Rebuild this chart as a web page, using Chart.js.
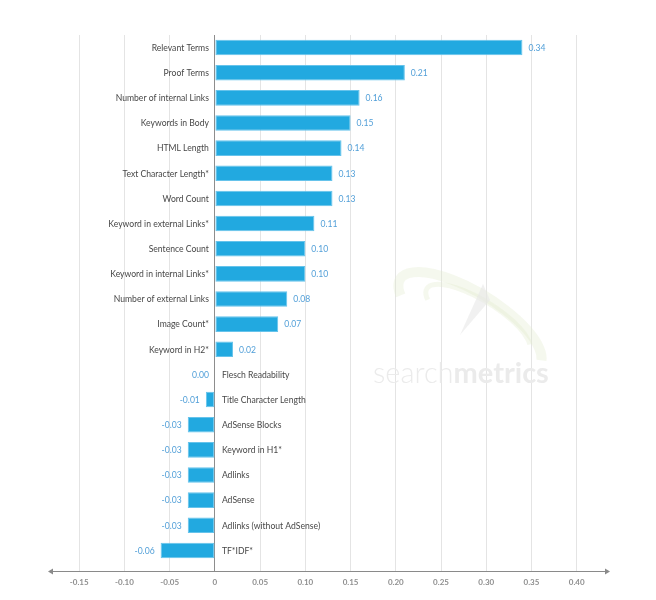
<!DOCTYPE html>
<html>
<head>
<meta charset="utf-8">
<script src="https://cdn.jsdelivr.net/npm/chart.js@4/dist/chart.umd.min.js"></script>
<style>
  html, body { margin: 0; padding: 0; background: #fff; }
  #wrap { width: 656px; height: 600px; }
</style>
</head>
<body>
<div id="wrap"><canvas id="chart" width="656" height="600"></canvas></div>
<script>
// data
const categories = [
  'Relevant Terms', 'Proof Terms', 'Number of internal Links', 'Keywords in Body',
  'HTML Length', 'Text Character Length*', 'Word Count', 'Keyword in external Links*',
  'Sentence Count', 'Keyword in internal Links*', 'Number of external Links',
  'Image Count*', 'Keyword in H2*', 'Flesch Readability', 'Title Character Length',
  'AdSense Blocks', 'Keyword in H1*', 'Adlinks', 'AdSense',
  'Adlinks (without AdSense)', 'TF*IDF*'
];
const correlation = [
  0.34, 0.21, 0.16, 0.15, 0.14, 0.13, 0.13, 0.11, 0.10, 0.10, 0.08,
  0.07, 0.02, 0.00, -0.01, -0.03, -0.03, -0.03, -0.03, -0.03, -0.06
];
const tickValues = [-0.15, -0.10, -0.05, 0, 0.05, 0.10, 0.15, 0.20, 0.25, 0.30, 0.35, 0.40];

const FONT = 'Lato, "Open Sans", sans-serif';

// labels next to the zero line + value labels
const barLabels = {
  id: 'barLabels',
  afterDatasetsDraw(chart) {
    const ctx = chart.ctx;
    const xs = chart.scales.x;
    const zero = xs.getPixelForValue(0);
    const meta = chart.getDatasetMeta(0);
    ctx.save();
    ctx.textBaseline = 'middle';
    ctx.font = '8.6px ' + FONT;
    meta.data.forEach((bar, i) => {
      const v = correlation[i];
      const y = bar.y + 0.5;
      const end = xs.getPixelForValue(v);
      ctx.fillStyle = '#474747';
      if (v > 0) {
        ctx.textAlign = 'right';
        ctx.fillText(categories[i], zero - 6, y);
        ctx.fillStyle = '#519fd8';
        ctx.textAlign = 'left';
        ctx.fillText(v.toFixed(2), end + 6, y);
      } else {
        ctx.textAlign = 'left';
        ctx.fillText(categories[i], zero + 7, y);
        ctx.fillStyle = '#519fd8';
        ctx.textAlign = 'right';
        ctx.fillText(v.toFixed(2), Math.min(end, zero) - 6, y);
      }
    });
    ctx.restore();
  }
};

// axis line with arrows + watermark
const decor = {
  id: 'decor',
  beforeDatasetsDraw(chart) {
    const ctx = chart.ctx;
    ctx.save();
    // faint watermark swoosh
    ctx.strokeStyle = 'rgba(225,235,205,0.35)';
    ctx.lineWidth = 10;
    ctx.beginPath();
    ctx.ellipse(470, 322, 82, 30, 0.55, Math.PI * 0.85, Math.PI * 1.95);
    ctx.stroke();
    ctx.lineWidth = 5;
    ctx.beginPath();
    ctx.ellipse(478, 320, 60, 20, 0.55, Math.PI * 0.85, Math.PI * 1.9);
    ctx.stroke();
    ctx.fillStyle = 'rgba(232,232,232,0.6)';
    ctx.beginPath();
    ctx.moveTo(483, 284);
    ctx.lineTo(460, 335);
    ctx.lineTo(490, 300);
    ctx.closePath();
    ctx.fill();
    ctx.fillStyle = '#ebebeb';
    ctx.textBaseline = 'alphabetic';
    ctx.textAlign = 'left';
    ctx.font = '300 29px ' + FONT;
    ctx.fillText('search', 373, 383);
    const w = ctx.measureText('search').width;
    ctx.font = 'bold 29px ' + FONT;
    ctx.fillText('metrics', 373 + w, 383);
    ctx.restore();
  },
  afterDraw(chart) {
    const ctx = chart.ctx;
    const a = chart.chartArea;
    const y = a.bottom + 8.5;
    ctx.save();
    ctx.strokeStyle = '#8a8a8a';
    ctx.fillStyle = '#8a8a8a';
    ctx.lineWidth = 1.2;
    ctx.beginPath();
    ctx.moveTo(a.left + 2, y);
    ctx.lineTo(a.right - 2, y);
    ctx.stroke();
    ctx.beginPath();
    ctx.moveTo(a.left, y);
    ctx.lineTo(a.left + 5, y - 3);
    ctx.lineTo(a.left + 5, y + 3);
    ctx.closePath();
    ctx.fill();
    ctx.beginPath();
    ctx.moveTo(a.right, y);
    ctx.lineTo(a.right - 5, y - 3);
    ctx.lineTo(a.right - 5, y + 3);
    ctx.closePath();
    ctx.fill();
    ctx.restore();
  }
};

new Chart(document.getElementById('chart'), {
  type: 'bar',
  data: {
    labels: categories,
    datasets: [{
      data: correlation,
      backgroundColor: '#22a9e0',
      borderColor: '#66c3eb',
      borderWidth: 1,
      borderSkipped: false,
      categoryPercentage: 0.62,
      barPercentage: 1
    }]
  },
  options: {
    indexAxis: 'y',
    responsive: false,
    animation: false,
    layout: { padding: { left: 48, right: 46, top: 35, bottom: 0 } },
    plugins: { legend: { display: false }, tooltip: { enabled: false } },
    scales: {
      x: {
        min: -0.1845,
        max: 0.4368,
        afterBuildTicks(scale) {
          scale.ticks = tickValues.map(v => ({ value: v }));
        },
        afterFit(scale) { scale.height = 37; },
        border: { display: false },
        grid: {
          color: c => (c.tick && c.tick.value === 0) ? '#8d8d8d' : '#e4e4e4',
          lineWidth: 1,
          tickLength: 8.5
        },
        ticks: {
          padding: 6,
          color: '#8f8f8f',
          font: { family: FONT, size: 8, weight: 'bold' },
          callback: v => v === 0 ? '0' : v.toFixed(2)
        }
      },
      y: { display: false }
    }
  },
  plugins: [decor, barLabels]
});
</script>
</body>
</html>
